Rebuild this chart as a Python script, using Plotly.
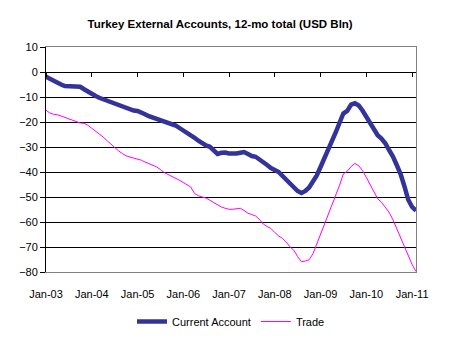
import plotly.graph_objects as go
import pandas as pd

months = pd.date_range("2003-01-01", "2011-02-01", freq="MS")

current_account = [
    -1.9, -2.8, -3.7, -4.4, -5.0, -5.6, -5.7, -5.4, -5.5, -5.9, -6.9, -7.9,
    -8.8, -9.6, -10.3, -10.9, -11.4, -12.0, -12.6, -13.1, -13.8, -14.6, -15.2, -15.4,
    -15.6, -16.1, -16.9, -17.7, -18.2, -18.7, -19.2, -19.6, -20.0, -20.5, -21.4, -22.4,
    -23.3, -24.2, -25.1, -26.3, -27.5, -28.7, -29.4, -29.9, -31.2, -32.8, -32.3, -32.2,
    -32.6, -32.7, -32.6, -32.3, -32.0, -32.8, -33.6, -33.9, -34.9, -36.0, -37.2, -38.4,
    -39.2, -40.0, -41.5, -43.0, -44.8, -46.3, -47.6, -48.4, -47.6, -46.2, -44.0, -41.4,
    -37.9, -34.6, -30.9, -27.6, -24.2, -20.3, -16.6, -15.6, -13.0, -12.5, -13.4, -15.4,
    -17.9, -20.6, -23.0, -25.3, -26.6, -28.5, -31.2, -33.8, -37.3, -40.8, -45.8, -51.1,
    -54.0, -55.5,
]

trade = [
    -15.3, -16.4, -16.9, -17.1, -17.6, -18.2, -18.6, -19.2, -19.8, -20.4, -20.5, -21.3,
    -22.5, -23.6, -24.7, -26.0, -27.4, -28.9, -30.2, -31.5, -32.6, -33.5, -34.0, -34.4,
    -34.7, -35.3, -36.0, -36.7, -37.3, -37.9, -39.0, -40.2, -41.0, -41.7, -42.5, -43.3,
    -44.2, -45.1, -46.0, -48.6, -49.5, -50.0, -50.4, -51.3, -52.3, -53.3, -54.0, -54.5,
    -54.9, -54.9, -54.8, -54.5, -55.4, -56.5, -57.0, -57.6, -59.0, -60.8, -61.8, -62.6,
    -64.2, -65.6, -66.5, -68.0, -69.9, -71.3, -73.8, -75.9, -75.6, -75.1, -72.7, -68.8,
    -64.8, -61.1, -57.5, -53.5, -49.6, -45.3, -40.8, -39.7, -37.8, -36.6, -37.5, -39.4,
    -42.2, -45.0, -47.8, -50.7, -52.1, -54.0, -56.1, -59.1, -62.8, -66.2, -69.8, -73.4,
    -77.0, -79.8,
]

tick_dates = pd.date_range("2003-01-01", "2011-01-01", freq="YS")
tick_labels = ["Jan-03", "Jan-04", "Jan-05", "Jan-06", "Jan-07", "Jan-08", "Jan-09", "Jan-10", "Jan-11"]

FONT = "Liberation Sans"
x_range = [months[0], months[-1]]
y_range = [-80, 10]

fig = go.Figure()
fig.add_trace(go.Scatter(x=months, y=current_account, mode="lines", name="Current Account",
                         line=dict(color="#333399", width=4.5)))
fig.add_trace(go.Scatter(x=months, y=trade, mode="lines", name="Trade",
                         line=dict(color="#FF00FF", width=1)))
# helper invisible traces to materialise the extra axes
fig.add_trace(go.Scatter(x=months[:1], y=[0], xaxis="x2", yaxis="y", mode="lines",
                         showlegend=False, hoverinfo="skip", line=dict(width=0)))
fig.add_trace(go.Scatter(x=months[:1], y=[0], xaxis="x", yaxis="y2", mode="lines",
                         showlegend=False, hoverinfo="skip", line=dict(width=0)))

fig.update_layout(
    width=452, height=341,
    margin=dict(l=46, r=36, t=47, b=69, autoexpand=False),
    paper_bgcolor="white", plot_bgcolor="white",
    font=dict(family=FONT, size=11, color="#000000"),
    title=dict(text="<b>Turkey External Accounts, 12-mo total (USD Bln)</b>",
               x=0.487, xanchor="center", y=0.93, yanchor="middle",
               font=dict(family=FONT, size=11.5, color="#000000")),
    showlegend=True,
    legend=dict(orientation="h", x=0.5, xanchor="center", y=-0.22, yanchor="middle",
                font=dict(family=FONT, size=11), bgcolor="rgba(0,0,0,0)",
                tracegroupgap=0, itemwidth=30),
    xaxis=dict(type="date", range=x_range, tickvals=tick_dates, ticktext=tick_labels,
               showgrid=False, zeroline=False, showline=True, linecolor="#808080",
               linewidth=1, mirror=True, ticks="", ticklabelstandoff=12,
               tickfont=dict(size=11)),
    xaxis2=dict(type="date", range=x_range, overlaying="x", anchor="free", position=0.8889,
                tickvals=tick_dates, showticklabels=False, showgrid=False, zeroline=False,
                showline=True, linecolor="#000000", linewidth=1,
                ticks="outside", ticklen=4, tickcolor="#000000", side="bottom"),
    yaxis=dict(range=y_range, dtick=10, tick0=0, showgrid=True, gridcolor="#000000",
               gridwidth=1, zeroline=False, showline=True, linecolor="#000000",
               linewidth=1, ticks="outside", ticklen=5, tickcolor="#000000",
               tickfont=dict(size=11)),
    yaxis2=dict(range=y_range, overlaying="y", side="right", showticklabels=False,
                showgrid=False, zeroline=False, showline=True, linecolor="#808080",
                linewidth=1, ticks=""),
)

fig.write_html("out.html")
